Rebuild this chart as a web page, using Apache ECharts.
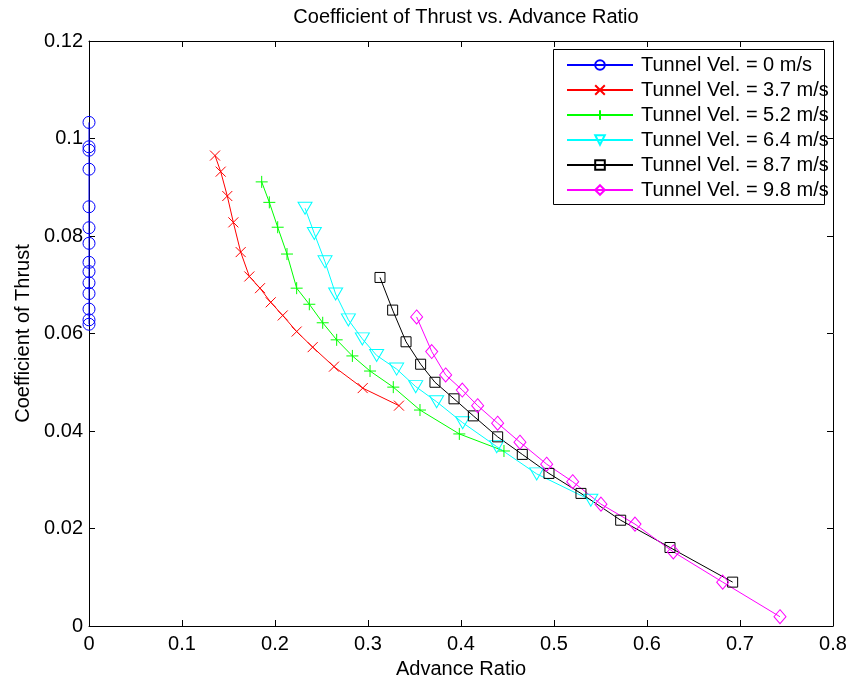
<!DOCTYPE html>
<html>
<head>
<meta charset="utf-8">
<script src="https://cdn.jsdelivr.net/npm/echarts@6/dist/echarts.min.js"></script>
<style>html,body{margin:0;padding:0;background:#fff}#c{width:853px;height:684px}</style>
</head>
<body>
<div id="c"></div>
<script>
var xTicks = [0, 0.1, 0.2, 0.3, 0.4, 0.5, 0.6, 0.7, 0.8];
var yTicks = [0, 0.02, 0.04, 0.06, 0.08, 0.1, 0.12];
var seriesNames = ['Tunnel Vel. = 0 m/s', 'Tunnel Vel. = 3.7 m/s', 'Tunnel Vel. = 5.2 m/s',
                   'Tunnel Vel. = 6.4 m/s', 'Tunnel Vel. = 8.7 m/s', 'Tunnel Vel. = 9.8 m/s'];

var blueJ  = [0, 0, 0, 0, 0, 0, 0, 0, 0, 0, 0, 0, 0, 0];
var blueCT = [0.1033, 0.0983, 0.0976, 0.0937, 0.0860, 0.0817, 0.0785, 0.0746, 0.0727, 0.0704, 0.0682, 0.0650, 0.0628, 0.0619];
var redJ   = [0.1355, 0.1416, 0.1487, 0.1552, 0.1631, 0.1724, 0.1839, 0.1954, 0.2083, 0.2233, 0.2405, 0.2634, 0.2943, 0.3333];
var redCT  = [0.0965, 0.0932, 0.0882, 0.0828, 0.0767, 0.0717, 0.0693, 0.0664, 0.0637, 0.0604, 0.0572, 0.0532, 0.0488, 0.0452];
var greenJ = [0.1857, 0.1939, 0.2029, 0.2129, 0.2233, 0.2369, 0.2513, 0.2663, 0.2832, 0.3022, 0.3272, 0.3559, 0.3982, 0.4462];
var greenCT= [0.0911, 0.0869, 0.0818, 0.0763, 0.0693, 0.0660, 0.0622, 0.0587, 0.0554, 0.0523, 0.0490, 0.0443, 0.0394, 0.0359];
var cyanJ  = [0.2323, 0.2423, 0.2538, 0.2652, 0.2789, 0.2939, 0.3093, 0.3308, 0.3513, 0.3738, 0.4018, 0.4384, 0.4814, 0.5396];
var cyanCT = [0.0857, 0.0805, 0.0747, 0.0681, 0.0628, 0.0589, 0.0555, 0.0527, 0.0491, 0.0460, 0.0417, 0.0368, 0.0312, 0.0258];
var blackJ = [0.3129, 0.3265, 0.3409, 0.3566, 0.3720, 0.3925, 0.4133, 0.4394, 0.4659, 0.4946, 0.5290, 0.5717, 0.6247, 0.6921];
var blackCT= [0.0715, 0.0648, 0.0583, 0.0537, 0.0500, 0.0466, 0.0431, 0.0388, 0.0352, 0.0313, 0.0272, 0.0217, 0.0161, 0.0090];
var magJ   = [0.3523, 0.3685, 0.3835, 0.4014, 0.4179, 0.4394, 0.4634, 0.4921, 0.5201, 0.5505, 0.5871, 0.6283, 0.6814, 0.7430];
var magCT  = [0.0634, 0.0563, 0.0515, 0.0484, 0.0452, 0.0416, 0.0377, 0.0332, 0.0296, 0.0250, 0.0209, 0.0152, 0.0090, 0.0019];

var FONT = '"Liberation Sans", Arial, Helvetica, sans-serif';
function pairs(xs, ys) { return xs.map(function (x, i) { return [x, ys[i]]; }); }
function mkSeries(name, xs, ys, color, symbol, size) {
  return {
    name: name, type: 'line', data: pairs(xs, ys),
    symbol: symbol, symbolSize: size, showAllSymbol: true, clip: false,
    xAxisIndex: 0, yAxisIndex: 0,
    lineStyle: { color: color, width: 1 },
    itemStyle: { color: 'rgba(0,0,0,0)', borderColor: color, borderWidth: 1 },
    emphasis: { disabled: true },
    animation: false
  };
}
var crossPath = 'path://M0,0L10,10M10,0L0,10';
var plusPath = 'path://M5,0L5,10M0,5L10,5';
var triPath = 'path://M0,0L14,0L7,12Z';
var diaPath = 'path://M6,0L12,7L6,14L0,7Z';

var series = [
  mkSeries(seriesNames[0], blueJ, blueCT, '#0000ff', 'circle', 12),
  mkSeries(seriesNames[1], redJ, redCT, '#ff0000', crossPath, [10, 10]),
  mkSeries(seriesNames[2], greenJ, greenCT, '#00ff00', plusPath, [12, 12]),
  mkSeries(seriesNames[3], cyanJ, cyanCT, '#00ffff', triPath, [14, 12]),
  mkSeries(seriesNames[4], blackJ, blackCT, '#000000', 'rect', [10, 10]),
  mkSeries(seriesNames[5], magJ, magCT, '#ff00ff', diaPath, [12, 14])
];

function axisCommon(min, max, interval, showLabel, pos) {
  return {
    type: 'value', min: min, max: max, interval: interval, position: pos,
    axisLine: { show: true, onZero: false, lineStyle: { color: '#000', width: 1 } },
    axisTick: { show: true, inside: true, length: 6, lineStyle: { color: '#000', width: 1 } },
    splitLine: { show: false },
    axisLabel: { show: showLabel, color: '#000', fontSize: 20, fontFamily: FONT, margin: 8 }
  };
}
var xMain = axisCommon(xTicks[0], xTicks[xTicks.length - 1], xTicks[1] - xTicks[0], true, 'bottom');
xMain.name = 'Advance Ratio';
xMain.nameLocation = 'middle';
xMain.nameGap = 33;
xMain.nameTextStyle = { color: '#000', fontSize: 20, fontFamily: FONT };
var xTop = axisCommon(xTicks[0], xTicks[xTicks.length - 1], xTicks[1] - xTicks[0], false, 'top');
var yMain = axisCommon(yTicks[0], yTicks[yTicks.length - 1], 0.02, true, 'left');
yMain.axisLabel.margin = 6;
yMain.name = 'Coefficient of Thrust';
yMain.nameLocation = 'middle';
yMain.nameGap = 52;
yMain.nameTextStyle = { color: '#000', fontSize: 20, fontFamily: FONT };
var yRight = axisCommon(yTicks[0], yTicks[yTicks.length - 1], 0.02, false, 'right');

var chart = echarts.init(document.getElementById('c'), null, { renderer: 'canvas' });
chart.setOption({
  backgroundColor: '#fff',
  animation: false,
  title: {
    text: 'Coefficient of Thrust vs. Advance Ratio',
    left: 461, top: 2, textAlign: 'center',
    textStyle: { color: '#000', fontSize: 20, fontWeight: 'normal', fontFamily: FONT }
  },
  grid: { left: 89, top: 41, width: 744, height: 585, containLabel: false },
  xAxis: [xMain, xTop],
  yAxis: [yMain, yRight],
  graphic: [{
    type: 'rect', left: 553, top: 49, z: 10,
    shape: { width: 271, height: 155 },
    style: { fill: '#fff', stroke: '#000', lineWidth: 1 }
  }],
  legend: {
    left: 553, top: 55, orient: 'vertical', z: 20,
    padding: [0, 0, 0, 13],
    itemWidth: 66, itemHeight: 12, itemGap: 5,
    selectedMode: false,
    textStyle: { color: '#000', fontSize: 20, fontFamily: FONT, lineHeight: 19.6, padding: [0, 0, 0, 3] },
    data: seriesNames
  },
  series: series
});
</script>
</body>
</html>
